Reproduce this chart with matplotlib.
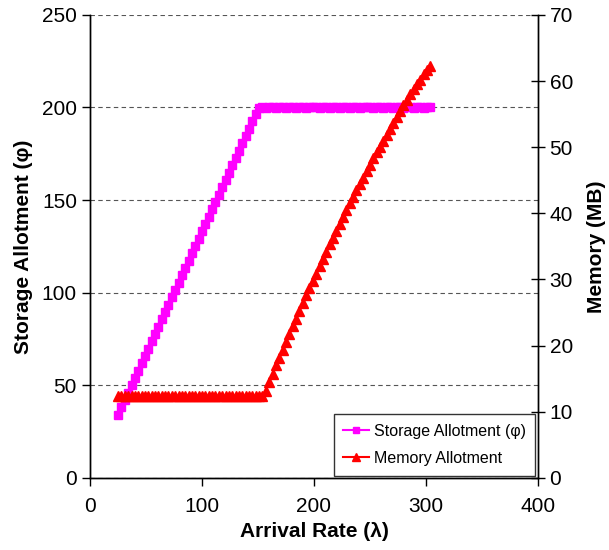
import matplotlib
matplotlib.use("Agg")
import matplotlib.pyplot as plt

plt.rcParams['font.family'] = ['Liberation Sans', 'DejaVu Sans']

# arrival rate (lambda), shared by both series
arrival_rate = [25, 28, 31, 34, 37, 40, 43, 46, 49, 52, 55, 58, 61, 64, 67, 70,
                73, 76, 79, 82, 85, 88, 91, 94, 97, 100, 103, 106, 109, 112, 115,
                118, 121, 124, 127, 130, 133, 136, 139, 142, 145, 148, 151, 154,
                157, 160, 163, 166, 169, 172, 175, 178, 181, 184, 187, 190, 193,
                196, 199, 202, 205, 208, 211, 214, 217, 220, 223, 226, 229, 232,
                235, 238, 241, 244, 247, 250, 253, 256, 259, 262, 265, 268, 271,
                274, 277, 280, 283, 286, 289, 292, 295, 298, 301, 304]

# storage allotment (phi), left axis
storage = [34.2, 38.1, 42.1, 46.0, 50.0, 54.0, 57.9, 61.9, 65.8, 69.8, 73.8,
           77.7, 81.7, 85.6, 89.6, 93.6, 97.5, 101.5, 105.4, 109.4, 113.4, 117.3,
           121.3, 125.2, 129.2, 133.2, 137.1, 141.1, 145.0, 149.0, 153.0, 156.9,
           160.9, 164.8, 168.8, 172.8, 176.7, 180.7, 184.6, 188.6, 192.6, 196.5,
           199.8, 200.1, 199.9, 200.3, 200.0, 199.8, 200.2, 200.4, 199.9, 200.1,
           200.3, 199.8, 200.0, 200.2, 199.9, 200.1, 200.3, 200.0, 199.8, 200.2,
           200.1, 199.9, 200.3, 200.0, 199.8, 200.1, 200.2, 199.9, 200.0, 200.3,
           199.8, 200.1, 200.0, 200.2, 199.9, 200.1, 200.3, 199.8, 200.0, 200.2,
           199.9, 200.1, 200.0, 199.8, 200.2, 200.1, 199.9, 200.0, 200.2, 199.8,
           200.1, 200.0]

# memory allotment (MB), right axis
memory = [12.4] * 44 + [
    13.2, 14.5, 15.7, 17.0, 18.2, 19.4, 20.6, 21.8, 22.9, 24.1, 25.3, 26.4,
    27.6, 28.7, 29.8, 30.9, 32.0, 33.1, 34.2, 35.3, 36.3, 37.4, 38.4, 39.4,
    40.5, 41.5, 42.5, 43.5, 44.5, 45.4, 46.4, 47.3, 48.3, 49.2, 50.1, 51.0,
    51.9, 52.8, 53.7, 54.6, 55.5, 56.3, 57.1, 58.0, 58.8, 59.6, 60.2, 61.0,
    61.7, 62.3]

fig = plt.figure(figsize=(6.09, 5.5), dpi=100)
ax = fig.add_axes([0.148, 0.131, 0.735, 0.842])
ax2 = ax.twinx()

l1, = ax.plot(arrival_rate, storage, color='#ff00ff', marker='s', markersize=5.5,
              linewidth=1.5, label='Storage Allotment (\u03c6)')
l2, = ax2.plot(arrival_rate, memory, color='#ff0000', marker='^', markersize=6.5,
               linewidth=1.5, label='Memory Allotment')

ax.set_xlim(0, 400)
ax.set_ylim(0, 250)
ax2.set_ylim(0, 70)
ax.set_xticks([0, 100, 200, 300, 400])
ax.set_yticks([0, 50, 100, 150, 200, 250])
ax2.set_yticks([0, 10, 20, 30, 40, 50, 60, 70])

# dashed grid from the left axis only
ax.grid(axis='y', color='#555555', linestyle=(0, (4, 3)), linewidth=0.8)
ax.set_axisbelow(True)

for a in (ax, ax2):
    a.spines['top'].set_visible(False)
    for s in ('left', 'right', 'bottom'):
        a.spines[s].set_linewidth(1.0)

ax.tick_params(axis='both', direction='out', length=6, width=1, labelsize=15)
ax.tick_params(axis='x', pad=8)
ax2.tick_params(axis='y', direction='inout', length=10, width=1, labelsize=15)

ax.set_xlabel('Arrival Rate (\u03bb)', fontsize=15, fontweight='bold', labelpad=4)
ax.set_ylabel('Storage Allotment (\u03c6)', fontsize=15, fontweight='bold', labelpad=6)
ax2.set_ylabel('Memory (MB)', fontsize=15, fontweight='bold', labelpad=10)

leg = ax2.legend(handles=[l1, l2], loc='lower right', bbox_to_anchor=(1.0, 0.0),
                 fontsize=11.5, frameon=True, fancybox=False, shadow=False,
                 markerscale=0.8, handlelength=1.6, handletextpad=0.3,
                 labelspacing=0.75, borderaxespad=0.15, borderpad=0.6)
leg.get_frame().set_edgecolor('black')
leg.get_frame().set_linewidth(1.0)

fig.savefig('out.png', dpi=100)
